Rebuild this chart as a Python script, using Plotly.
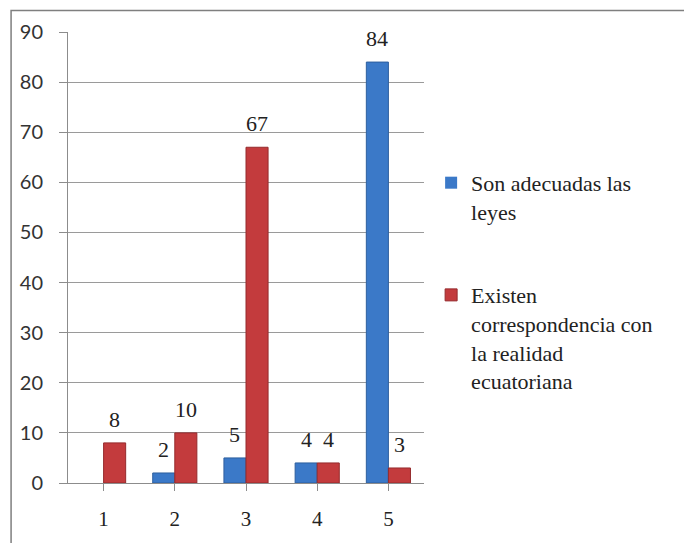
import plotly.graph_objects as go

# Survey results per question
categories = ["1", "2", "3", "4", "5"]
series_names = [
    "Son adecuadas las<br>leyes",
    "Existen<br>correspondencia con<br>la realidad<br>ecuatoriana",
]
adecuadas = [0, 2, 5, 4, 84]
correspondencia = [8, 10, 67, 4, 3]
y_ticks = [0, 10, 20, 30, 40, 50, 60, 70, 80, 90]

colors = ["#3B79C8", "#C33B3D"]
edge_colors = ["#2D5F9E", "#952B2D"]

SERIF = "Liberation Serif"
SANS = "Lato"
BARGAP = 0.38

fig = go.Figure()
all_series = [adecuadas, correspondencia]
for i, (name, vals) in enumerate(zip(series_names, all_series)):
    fig.add_trace(go.Bar(
        x=list(range(len(categories))),
        y=vals,
        name=name,
        legendgroup=f"g{i}",
        marker=dict(
            color=colors[i],
            line=dict(color=edge_colors[i],
                      width=[1 if v > 0 else 0 for v in vals]),
        ),
    ))

# value labels above each non-zero bar
bar_w = (1 - BARGAP) / len(all_series)
for i, vals in enumerate(all_series):
    offset = -(1 - BARGAP) / 2 + bar_w * (i + 0.5)
    for j, v in enumerate(vals):
        if v == 0:
            continue
        fig.add_annotation(
            x=j + offset, y=v, xref="x", yref="y",
            text=str(v), showarrow=False,
            yanchor="bottom", yshift=9,
            font=dict(family=SERIF, size=22, color="#222222"),
        )

fig.update_layout(
    width=684, height=543,
    margin=dict(l=68, r=259.5, t=32, b=49),
    paper_bgcolor="white", plot_bgcolor="white",
    barmode="group", bargap=BARGAP, bargroupgap=0,
    font=dict(family=SERIF, size=21, color="#222222"),
    legend=dict(
        x=1.02, y=0.712, xanchor="left", yanchor="top",
        font=dict(family=SERIF, size=22, color="#222222"),
        tracegroupgap=52, valign="top",
        bgcolor="rgba(0,0,0,0)",
    ),
    xaxis=dict(
        range=[-0.5, 4.5],
        tickmode="array",
        tickvals=list(range(len(categories))),
        ticktext=categories,
        tickson="boundaries",
        ticks="outside", ticklen=7, tickcolor="#8C8C8C",
        tickfont=dict(family=SERIF, size=21, color="#222222"),
        showline=True, linecolor="#8C8C8C", linewidth=1,
        showgrid=False, zeroline=False,
        ticklabelstandoff=10,
    ),
    yaxis=dict(
        range=[0, 90],
        tickmode="array", tickvals=y_ticks,
        ticks="outside", ticklen=8, tickcolor="#8C8C8C",
        tickfont=dict(family=SANS, size=20, color="#333333"),
        showline=True, linecolor="#8C8C8C", linewidth=1,
        showgrid=True, gridcolor="#9A9A9A", gridwidth=1,
        zeroline=False,
        ticklabelstandoff=12,
    ),
    shapes=[
        # outer chart frame (top and left edges visible)
        dict(type="rect", xref="paper", yref="paper",
             x0=-57 / 356.5, x1=1.8, y0=-0.2, y1=1 + 22 / 462,
             line=dict(color="#7F7F7F", width=1.5), layer="below"),
    ],
)

fig.write_html("out.html")
